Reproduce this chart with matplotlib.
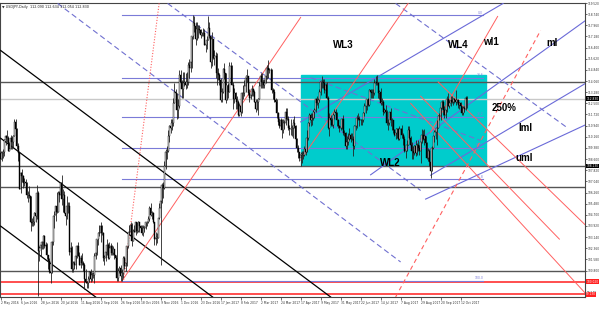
import matplotlib
matplotlib.use('Agg')
import matplotlib.pyplot as plt
from matplotlib.patches import Rectangle

# USDJPY daily, 13 May 2016 .. 19 Oct 2017 (one row per week)
closes = [108.6,
    109.0, 109.1, 109.9, 110.2, 110.1,  109.2, 109.3, 110.1, 109.8, 110.2,
    111.2, 110.7, 109.5, 109.0, 106.5,  107.6, 107.4, 106.9, 107.0, 106.9,
    106.1, 106.1, 106.0, 104.2, 104.1,  104.2, 104.8, 104.6, 106.2, 102.2,
    102.4, 102.6, 102.8, 103.2, 102.5,  102.6, 101.9, 101.5, 100.7, 100.6,
    102.8, 104.6, 104.7, 105.3, 104.9,  106.2, 106.1, 106.9, 105.8, 106.1,
    104.8, 104.6, 105.3, 105.3, 102.1,  102.4, 100.9, 101.3, 101.2, 101.8,
    102.5, 101.8, 101.2, 101.7, 101.3,  101.2, 100.2, 100.0, 99.9, 100.2,
    100.7, 100.2, 100.5, 100.5, 101.8,  102.0, 103.0, 103.4, 103.4, 103.9,
    103.4, 101.7, 101.7, 102.1, 102.6,  101.7, 102.4, 102.5, 102.0, 102.3,
    101.9, 101.7, 100.3, 100.8, 101.0,  100.4, 100.6, 101.7, 101.1, 101.3,
    102.5, 103.5, 103.5, 104.0, 102.9,  103.6, 103.5, 104.2, 103.6, 104.2,
    103.9, 103.8, 103.4, 103.8, 103.8,  104.2, 104.2, 104.4, 105.2, 104.7,
    104.8, 104.2, 103.0, 103.1, 103.1,  104.5, 105.2, 105.7, 106.8, 106.6,
    108.1, 109.1, 109.2, 110.2, 110.9,  110.8, 111.1, 112.5, 113.3, 113.2,
    112.0, 112.3, 114.5, 114.0, 113.5,  113.9, 114.0, 113.8, 114.0, 115.2,
    115.0, 115.4, 117.2, 118.1, 117.9,  117.0, 117.7, 117.7, 117.6, 117.3,
    117.4, 117.4, 116.6, 116.6, 116.9,  117.8, 117.2, 115.4, 117.0,
    115.7, 115.8, 115.8, 114.6, 114.5,  114.1, 112.7, 113.3, 114.9, 114.6,
    112.7, 113.8, 113.3, 115.1, 115.1,  113.8, 112.8, 113.2, 112.8, 112.6,
    111.7, 112.3, 111.9, 113.2, 113.2,  113.7, 114.3, 114.4, 113.2, 112.9,
    113.1, 113.5, 113.3, 112.6, 112.1,  112.6, 112.8, 113.7, 114.4, 114.0,
    113.8, 113.9, 114.4, 115.0, 114.8,  114.8, 114.8, 113.4, 113.3, 112.7,
    112.6, 111.8, 111.2, 110.9, 111.3,  110.6, 111.1, 111.1, 111.9, 111.4,
    110.8, 110.7, 110.7, 110.8, 111.1,  110.9, 110.0, 109.4, 109.1, 108.7,
    108.9, 108.9, 108.9, 109.3, 109.1,  110.1, 111.1, 111.7, 111.3, 111.5,
    111.9, 112.0, 112.8, 112.5, 112.7,  113.3, 114.0, 114.0, 113.9, 113.4,
    113.8, 112.9, 110.8, 111.5, 111.3,  111.0, 111.7, 111.9, 111.8, 111.3,
    110.9, 110.8, 110.8, 111.4, 110.4,  110.4, 109.5, 109.8, 110.0, 110.3,
    110.0, 110.0, 109.5, 110.9, 110.9,  111.5, 111.4, 111.3, 111.3, 111.3,
    111.8, 112.3, 112.3, 112.8, 112.4,  113.4, 113.3, 113.2, 113.2, 113.9,
    114.0, 113.9, 113.2, 113.3, 112.5,  112.6, 111.9, 112.0, 111.9, 111.1,
    111.1, 111.9, 111.3, 111.3, 110.6,  110.3, 110.4, 110.7, 110.0, 110.7,
    110.7, 110.3, 110.0, 109.2, 109.2,  109.6, 110.6, 110.1, 109.6, 109.2,
    109.0, 109.5, 109.0, 109.6, 109.4,  109.2, 109.8, 110.3, 110.0, 110.2,
    109.7, 108.7, 109.2, 108.4, 107.8,  109.4, 110.2, 110.5, 110.5, 110.8,
    111.6, 111.6, 112.2, 112.6, 112.0,  111.7, 112.0, 112.8, 112.3, 112.5,
    112.7, 112.6, 112.8, 112.7, 112.6,  112.7, 112.4, 112.5, 112.3, 111.8,
    112.2, 112.1, 112.9, 112.8]
highs = [109.2,
    109.2, 109.3, 110.0, 110.3, 110.6,  110.2, 109.8, 110.3, 110.2, 110.3,
    111.4, 111.4, 110.8, 109.7, 109.1,  107.7, 107.9, 107.5, 107.3, 107.2,
    107.0, 106.4, 106.7, 106.0, 104.5,  104.6, 104.9, 105.0, 106.8, 106.4,
    102.5, 102.7, 102.9, 103.3, 103.3,  102.8, 102.7, 101.9, 101.7, 101.0,
    102.9, 104.6, 105.0, 105.3, 106.3,  106.4, 106.4, 107.0, 107.5, 106.5,
    106.4, 105.0, 106.0, 105.6, 105.6,  102.8, 102.5, 101.5, 101.5, 102.1,
    102.6, 102.8, 102.1, 101.9, 102.0,  101.5, 101.3, 100.9, 100.1, 100.4,
    100.8, 100.9, 100.7, 100.7, 102.0,  102.3, 103.0, 103.5, 104.0, 104.2,
    104.0, 103.5, 101.9, 102.5, 103.0,  102.7, 102.8, 102.7, 102.6, 102.5,
    102.3, 101.9, 102.8, 101.0, 101.1,  101.2, 100.9, 101.8, 101.8, 101.6,
    102.5, 103.5, 104.0, 104.2, 104.1,  103.7, 104.0, 104.2, 104.2, 104.3,
    104.2, 104.0, 104.0, 104.0, 103.9,  104.2, 104.3, 104.6, 105.3, 105.5,
    105.0, 104.9, 104.2, 103.5, 103.4,  104.5, 105.5, 105.9, 106.9, 107.0,
    108.5, 109.3, 109.5, 110.6, 111.0,  111.4, 111.4, 112.9, 113.9, 113.5,
    113.2, 112.8, 114.8, 114.8, 114.1,  114.7, 114.7, 114.6, 114.7, 115.4,
    115.6, 115.6, 117.2, 118.7, 118.6,  118.2, 118.2, 118.0, 118.0, 117.7,
    117.5, 117.8, 117.7, 116.9, 117.2,  118.6, 118.2, 117.2, 117.5,
    117.0, 116.2, 116.1, 116.0, 115.0,  114.6, 114.3, 113.6, 115.0, 115.3,
    114.6, 113.8, 113.9, 115.4, 115.4,  115.2, 114.0, 113.6, 113.3, 113.0,
    112.7, 112.5, 112.4, 113.3, 113.8,  114.1, 114.5, 114.9, 114.4, 113.5,
    113.3, 113.8, 113.6, 113.4, 112.8,  112.8, 112.9, 114.0, 114.6, 114.6,
    114.2, 114.2, 114.5, 115.2, 115.5,  115.0, 115.0, 114.9, 113.6, 113.5,
    112.9, 112.8, 111.9, 111.5, 111.5,  111.4, 111.4, 111.3, 112.2, 112.2,
    111.6, 111.0, 111.4, 111.0, 111.4,  111.6, 111.0, 110.1, 109.6, 109.1,
    109.1, 109.2, 109.2, 109.5, 109.5,  110.6, 111.2, 111.8, 111.8, 111.8,
    112.0, 112.2, 112.9, 113.0, 112.9,  113.5, 114.0, 114.4, 114.2, 114.2,
    113.9, 114.0, 113.0, 111.8, 111.7,  111.5, 111.8, 112.1, 112.1, 111.9,
    111.4, 111.0, 111.3, 111.5, 111.7,  110.6, 110.5, 110.2, 110.4, 110.8,
    110.4, 110.4, 110.2, 111.0, 111.4,  111.7, 111.8, 111.6, 111.4, 111.4,
    111.9, 112.5, 112.4, 112.8, 112.9,  113.5, 113.5, 113.5, 113.5, 114.2,
    114.4, 114.5, 114.0, 113.4, 113.6,  112.9, 112.7, 112.2, 112.4, 112.0,
    111.4, 111.9, 112.2, 111.5, 111.3,  110.7, 110.8, 110.8, 110.8, 110.9,
    110.8, 111.0, 110.4, 110.2, 109.6,  109.9, 110.9, 110.9, 110.2, 109.8,
    109.5, 109.6, 109.9, 109.7, 109.9,  109.6, 109.8, 110.7, 110.6, 110.7,
    110.2, 109.8, 109.4, 109.3, 108.5,  109.5, 110.2, 110.6, 110.8, 111.3,
    111.7, 111.8, 112.5, 112.7, 112.7,  112.3, 112.2, 113.0, 113.2, 112.7,
    113.0, 113.0, 112.9, 112.9, 113.4,  112.8, 112.8, 112.6, 112.6, 112.3,
    112.3, 112.3, 113.0, 113.0]
lows = [108.6,
    108.5, 108.7, 108.8, 109.6, 109.8,  109.2, 109.2, 109.3, 109.3, 109.4,
    110.2, 110.5, 109.3, 108.5, 106.5,  106.2, 107.0, 106.6, 106.7, 106.6,
    105.9, 105.6, 105.9, 103.6, 103.9,  103.9, 104.0, 104.2, 104.4, 99.0,
    101.5, 101.8, 102.3, 102.3, 102.4,  102.3, 101.6, 100.9, 100.6, 99.9,
    100.6, 102.6, 103.8, 104.3, 104.8,  104.9, 105.6, 105.9, 105.4, 104.9,
    104.8, 104.0, 104.4, 104.8, 101.9,  102.0, 100.7, 100.7, 100.9, 100.9,
    101.7, 101.8, 101.2, 101.0, 101.2,  100.8, 99.5, 99.9, 99.6, 99.6,
    100.0, 100.0, 100.1, 100.3, 99.9,  101.6, 101.9, 102.6, 103.2, 102.8,
    103.3, 101.5, 101.2, 101.5, 101.9,  101.6, 101.6, 101.9, 101.9, 101.9,
    101.6, 101.5, 100.1, 100.1, 100.6,  100.1, 100.1, 100.3, 100.9, 100.8,
    101.1, 102.4, 103.3, 103.4, 102.5,  102.9, 103.5, 103.3, 103.4, 103.5,
    103.5, 103.6, 103.3, 103.2, 103.5,  103.7, 103.9, 104.1, 104.3, 104.6,
    104.4, 104.1, 102.6, 102.6, 102.7,  103.1, 104.4, 101.2, 105.5, 105.9,
    106.5, 107.9, 108.6, 109.1, 109.8,  110.4, 110.6, 110.9, 112.5, 112.6,
    111.4, 111.5, 112.2, 113.6, 112.9,  112.9, 113.7, 113.5, 113.6, 113.8,
    114.3, 114.7, 115.0, 117.0, 117.5,  116.6, 116.9, 117.1, 117.4, 117.1,
    117.2, 117.2, 116.6, 116.1, 116.3,  116.9, 117.1, 115.0, 115.1,
    115.6, 115.2, 114.3, 113.8, 114.1,  113.8, 112.6, 112.6, 113.2, 114.2,
    112.5, 112.7, 112.9, 113.3, 114.6,  113.8, 112.1, 112.5, 112.1, 112.1,
    111.6, 111.6, 111.6, 111.8, 112.8,  113.0, 113.3, 114.0, 113.1, 112.6,
    112.8, 113.0, 113.0, 112.6, 111.9,  112.0, 111.7, 112.8, 113.6, 113.6,
    113.6, 113.6, 113.9, 114.2, 114.3,  114.6, 114.6, 113.2, 112.8, 112.6,
    112.5, 111.5, 111.0, 110.8, 110.8,  110.1, 110.4, 110.7, 111.0, 111.3,
    110.6, 110.3, 110.3, 110.2, 110.1,  110.8, 109.9, 109.1, 108.7, 108.5,
    108.1, 108.3, 108.6, 108.8, 108.9,  109.1, 109.9, 110.9, 110.9, 111.0,
    111.3, 111.5, 111.9, 112.4, 112.2,  112.6, 113.1, 113.6, 113.6, 113.2,
    113.2, 112.8, 110.7, 110.2, 110.9,  110.9, 110.8, 111.4, 111.5, 110.9,
    110.8, 110.5, 110.6, 110.7, 110.3,  110.2, 109.3, 109.3, 109.6, 109.9,
    109.8, 109.9, 108.8, 109.3, 110.6,  110.8, 111.3, 110.9, 111.0, 111.0,
    111.2, 111.6, 111.8, 112.0, 112.3,  112.3, 112.9, 112.9, 112.9, 113.1,
    113.8, 113.8, 112.9, 112.8, 112.4,  112.4, 111.7, 111.8, 111.6, 111.0,
    110.6, 111.0, 110.9, 110.6, 110.4,  110.2, 110.0, 110.1, 109.9, 109.9,
    110.4, 110.1, 109.6, 109.1, 108.7,  109.2, 109.6, 110.0, 109.3, 108.6,
    108.6, 108.9, 108.8, 108.9, 109.2,  108.9, 108.3, 109.7, 109.9, 109.6,
    109.5, 108.6, 108.5, 108.1, 107.3,  107.8, 109.3, 109.8, 110.0, 109.6,
    110.8, 111.3, 111.3, 112.1, 111.7,  111.5, 111.5, 111.9, 112.3, 112.2,
    112.3, 112.5, 112.4, 112.5, 112.4,  112.5, 112.2, 112.1, 112.1, 111.7,
    111.7, 111.9, 112.0, 112.2]
opens = [109.0] + closes[:-1]

date_labels = ['2 May 2016', '6 Jun 2016', '28 Jun 2016', '20 Jul 2016', '11 Aug 2016',
               '2 Sep 2016', '26 Sep 2016', '18 Oct 2016', '9 Nov 2016', '1 Dec 2016',
               '23 Dec 2016', '17 Jan 2017', '8 Feb 2017', '2 Mar 2017', '24 Mar 2017',
               '17 Apr 2017', '9 May 2017', '31 May 2017', '22 Jun 2017', '14 Jul 2017',
               '7 Aug 2017', '29 Aug 2017', '20 Sep 2017', '12 Oct 2017']
price_ticks = [119.52 - 0.78 * k for k in range(27)]

fib_levels = [0.0, 23.6, 38.2, 50.0, 61.8, 100.0]
fib_high, fib_low = 118.66, 100.08
hlines_gray = [113.97, 108.13, 106.63, 100.77]
hlines_red = [100.02, 99.13]
bid = 112.83

# trend lines: (bar0, price0, bar1, price1)
black_lines = [(0, 116.20, 264, 98.95), (0, 110.06, 169.6, 98.95), (0, 103.91, 76, 98.95)]
blue_dash = [(45.6, 119.49, 320, 101.4), (133.6, 119.49, 336, 106.4),
             (316, 119.49, 454, 110.75), (248, 114.3, 384, 109.9)]
blue_solid = [(240, 111.2, 402, 119.49), (296, 107.5, 468, 118.3),
              (344, 107.47, 468, 113.9), (340, 105.8, 468, 111.0)]
red_solid = [(97.6, 100.14, 240, 118.51), (240, 108.52, 326, 119.49),
             (344, 110.48, 397.6, 118.58), (336, 113.0, 447, 103.0),
             (328, 112.5, 470, 99.0), (350, 114.0, 470, 103.8)]
red_dot = [(98.4, 100.14, 126.8, 119.49)]
red_dash = [(316, 98.95, 432, 117.6)]

fig = plt.figure(figsize=(6, 3.13), dpi=100)
ax = fig.add_axes([0, 16 / 313, 585 / 600, 294 / 313])
ax.set_xlim(-0.5, 467.5)
ax.set_ylim(98.95, 119.485)

# range box
ax.add_patch(Rectangle((240, 108.17), 148, 114.46 - 108.17, color='#00cccc', zorder=1))

for p in hlines_gray:
    ax.axhline(p, color='#555555', lw=1.0, zorder=2)
for p in hlines_red:
    ax.axhline(p, color='#ff3030', lw=1.2, zorder=2)
ax.axhline(bid, color='#c8c8c8', lw=1.0, zorder=2)

for lv in fib_levels:
    p = fib_high - (fib_high - fib_low) * lv / 100
    ax.plot([97, 386], [p, p], color='#7b7bd8', lw=0.8, zorder=3)
    ax.text(386, p + 0.05, '%.1f' % lv, fontsize=2.2, color='#7b7bd8', ha='right', va='bottom')

for b0, p0, b1, p1 in black_lines:
    ax.plot([b0, b1], [p0, p1], color='black', lw=0.9, zorder=3)
for b0, p0, b1, p1 in blue_dash:
    ax.plot([b0, b1], [p0, p1], color='#7070d0', lw=0.8, ls=(0, (5, 3)), zorder=3)
for b0, p0, b1, p1 in blue_solid:
    ax.plot([b0, b1], [p0, p1], color='#6a6ad8', lw=0.8, zorder=3)
for b0, p0, b1, p1 in red_solid:
    ax.plot([b0, b1], [p0, p1], color='#ff6060', lw=0.7, zorder=3)
for b0, p0, b1, p1 in red_dot:
    ax.plot([b0, b1], [p0, p1], color='#ff6060', lw=0.8, ls=(0, (1, 1.5)), zorder=3)
for b0, p0, b1, p1 in red_dash:
    ax.plot([b0, b1], [p0, p1], color='#ff6060', lw=0.8, ls=(0, (4, 3)), zorder=3)

# candles
idx = list(range(len(closes)))
ax.vlines(idx, lows, highs, color='#222222', lw=0.6, zorder=4)
for i in idx:
    o, c = opens[i], closes[i]
    fc = 'white' if c >= o else 'black'
    ax.add_patch(Rectangle((i - 0.4, min(o, c)), 0.8, max(abs(c - o), 0.03),
                           facecolor=fc, edgecolor='black', lw=0.3, zorder=5))

labels = [('WL3', 274.4, 116.55), ('WL4', 366.4, 116.55), ('wl1', 392, 116.76),
          ('ml', 440.8, 116.69), ('250%', 402.4, 112.15), ('lml', 420, 110.75),
          ('uml', 418.4, 108.66), ('WL2', 312, 108.31)]
for t, b, p in labels:
    ax.text(b, p, t, fontsize=7, fontweight='bold', family='Liberation Sans',
            ha='center', va='center', zorder=6)

ax.set_xticks(range(0, 16 * len(date_labels), 16))
ax.set_xticklabels(date_labels, fontsize=2.2, ha='left', color='#333333')
ax.tick_params(axis='x', length=2, width=0.4, pad=1)
ax.yaxis.tick_right()
ax.set_yticks(price_ticks)
ax.set_yticklabels(['%.3f' % v for v in price_ticks], fontsize=2.1, color='#333333')
ax.tick_params(axis='y', length=1.2, width=0.4, pad=0.5)
for s in ax.spines.values():
    s.set_color('#444444')
    s.set_linewidth(0.8)

for p, fc in [(bid, 'black'), (108.13, 'black'), (100.02, '#ff2020'), (99.13, '#ff2020')]:
    ax.text(1.002, p, '%.3f' % p, transform=ax.get_yaxis_transform(), fontsize=2.1,
            color='white', va='center', ha='left',
            bbox=dict(boxstyle='square,pad=0.1', fc=fc, ec='none'), zorder=7)

fig.text(0.004, 0.985, '\u25bc USDJPY,Daily  112.090 112.634 112.054 112.830', fontsize=2.4,
         va='top', ha='left', color='#222222')

fig.savefig('out.png', dpi=100)
